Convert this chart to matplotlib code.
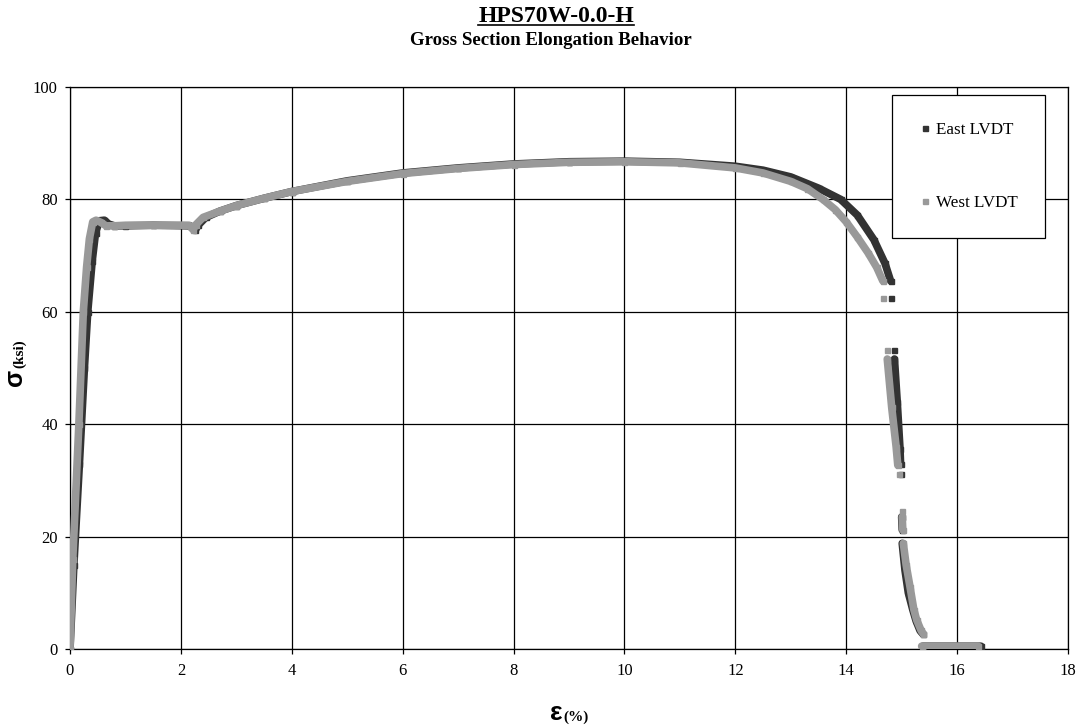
import numpy as np
import matplotlib
matplotlib.use("Agg")
import matplotlib.pyplot as plt
from matplotlib.lines import Line2D
from matplotlib.transforms import IdentityTransform

nan = np.nan

# East LVDT: strain (%) and stress (ksi); nan breaks the trace where readings jump
east_strain = [0.0, 0.07, 0.17, 0.26, 0.32, 0.40, 0.46, 0.53, 0.62, 0.70, 0.80, 1.0, 1.5, 2.17,
               2.26, 2.31, 2.45, 2.7, 3.0, 3.5, 4.0, 5.0, 6.0, 7.0, 8.0, 9.0, 10.0, 11.0, 12.0,
               12.5, 13.0, 13.5, 13.9, 14.2, 14.5, 14.7, 14.80, nan,
               14.81, nan, 14.86, nan, 14.87, 14.92, 14.97, 14.98, nan, 14.99, nan,
               15.0, 15.01, nan, 15.01, 15.06, 15.12, 15.2, 15.26, 15.33, 15.38, nan,
               15.38, 16.43]
east_stress = [0.0, 15.0, 33.0, 50.0, 60.0, 69.0, 74.0, 76.2, 76.3, 75.6, 75.3, 75.3, 75.4, 75.3,
               74.5, 75.4, 76.8, 77.9, 78.9, 80.2, 81.4, 83.3, 84.7, 85.6, 86.3, 86.7, 86.8, 86.6, 85.9,
               85.2, 84.0, 82.0, 80.0, 77.2, 72.8, 68.6, 65.5, nan,
               62.5, nan, 53.2, nan, 51.6, 44.0, 35.6, 33.0, nan, 31.1, nan,
               23.5, 21.2, nan, 18.8, 14.0, 10.0, 7.0, 5.0, 3.3, 2.7, nan,
               0.5, 0.5]

# West LVDT
west_strain = [0.0, 0.05, 0.16, 0.24, 0.30, 0.35, 0.41, 0.47, 0.56, 0.65, 0.80, 1.0, 1.5, 2.15,
               2.22, 2.27, 2.4, 2.7, 3.0, 3.5, 4.0, 5.0, 6.0, 7.0, 8.0, 9.0, 10.0, 11.0, 12.0,
               12.5, 13.0, 13.3, 13.58, 13.8, 14.0, 14.2, 14.4, 14.55, 14.66, nan,
               14.67, nan, 14.73, nan, 14.74, 14.82, 14.90, 14.93, nan, 14.95, nan,
               15.0, nan, 15.01, 15.02, nan, 15.03, 15.08, 15.15, 15.22, 15.27, 15.35, 15.39, nan,
               15.36, 16.38]
west_stress = [0.0, 16.0, 40.0, 60.0, 68.0, 73.0, 76.0, 76.3, 75.9, 75.3, 75.3, 75.4, 75.4, 75.4,
               74.6, 75.5, 76.8, 77.9, 78.9, 80.2, 81.4, 83.2, 84.6, 85.5, 86.2, 86.6, 86.7, 86.5, 85.6,
               84.7, 83.2, 81.9, 80.0, 78.2, 76.0, 73.3, 70.4, 67.9, 65.5, nan,
               62.5, nan, 53.2, nan, 51.6, 43.0, 36.0, 32.7, nan, 31.1, nan,
               24.6, nan, 23.5, 21.2, nan, 18.8, 15.0, 11.1, 7.0, 5.2, 3.3, 2.7, nan,
               0.5, 0.5]

series_names = ["East LVDT", "West LVDT"]
series_colors = ["#333333", "#999999"]
x_ticks = np.arange(0, 19, 2)
y_ticks = np.arange(0, 101, 20)

serif = "Liberation Serif"
sans = "Liberation Sans"
plt.rcParams["font.family"] = serif

fig = plt.figure(figsize=(10.78, 7.25), dpi=100)
ax = fig.add_axes([70 / 1078, 1 - 649 / 725, 998 / 1078, 562 / 725])

for xs, ys, c in zip([east_strain, west_strain], [east_stress, west_stress], series_colors):
    ax.plot(xs, ys, color=c, lw=5.5, marker="s", ms=3.6, mec=c, mfc=c,
            solid_capstyle="round", solid_joinstyle="round", zorder=3)

ax.set_xlim(0, 18)
ax.set_ylim(0, 100)
ax.set_xticks(x_ticks)
ax.set_yticks(y_ticks)
ax.grid(True, color="black", lw=0.9)
ax.set_axisbelow(True)
for s in ax.spines.values():
    s.set_color("black")
    s.set_linewidth(0.9)
ax.tick_params(direction="out", length=3.8, width=0.9, labelsize=12, colors="black")
ax.tick_params(axis="x", pad=6)
ax.tick_params(axis="y", pad=5)

handles = [Line2D([], [], ls="none", marker="s", ms=3.6, color=c) for c in series_colors]
leg = fig.legend(handles, series_names, loc="upper left",
                 bbox_to_anchor=(892 / 1078, 1 - 95 / 725), borderaxespad=0,
                 fontsize=12.3, frameon=True, fancybox=False, framealpha=1,
                 edgecolor="black", borderpad=1.6, labelspacing=3.3,
                 handlelength=0.7, handletextpad=0.25, numpoints=1)
leg.get_frame().set_linewidth(0.9)

# titles
px = IdentityTransform()
t1 = fig.text(556, 725 - 22, "HPS70W-0.0-H", ha="center", va="baseline",
              fontsize=17, fontweight="bold", transform=px)
fig.text(551, 725 - 45, "Gross Section Elongation Behavior", ha="center",
         va="baseline", fontsize=13.6, fontweight="bold", transform=px)

# axis labels built from a large symbol plus a smaller unit
xl = fig.text(550, 5, "\u03b5", fontsize=19, fontweight="bold", family=sans,
              ha="left", va="baseline", transform=px)
yl = fig.text(22, 725 - 386, "\u03c3", fontsize=18, fontweight="bold", family=sans,
              ha="left", va="baseline", rotation=90, rotation_mode="anchor", transform=px)

fig.canvas.draw()
r = fig.canvas.get_renderer()
bb = xl.get_window_extent(r)
fig.text(bb.x1 + 0.5, 4, "(%)", fontsize=11, fontweight="bold",
         ha="left", va="baseline", transform=px)
bb = yl.get_window_extent(r)
fig.text(23, bb.y1 + 1, "(ksi)", fontsize=11, fontweight="bold",
         ha="left", va="baseline", rotation=90, rotation_mode="anchor", transform=px)

# underline the main title
bb = t1.get_window_extent(r)
fig.add_artist(Line2D([bb.x0, bb.x1], [725 - 24.5, 725 - 24.5], color="black", lw=1.2,
                      transform=px))

fig.savefig("out.png", dpi=100)
